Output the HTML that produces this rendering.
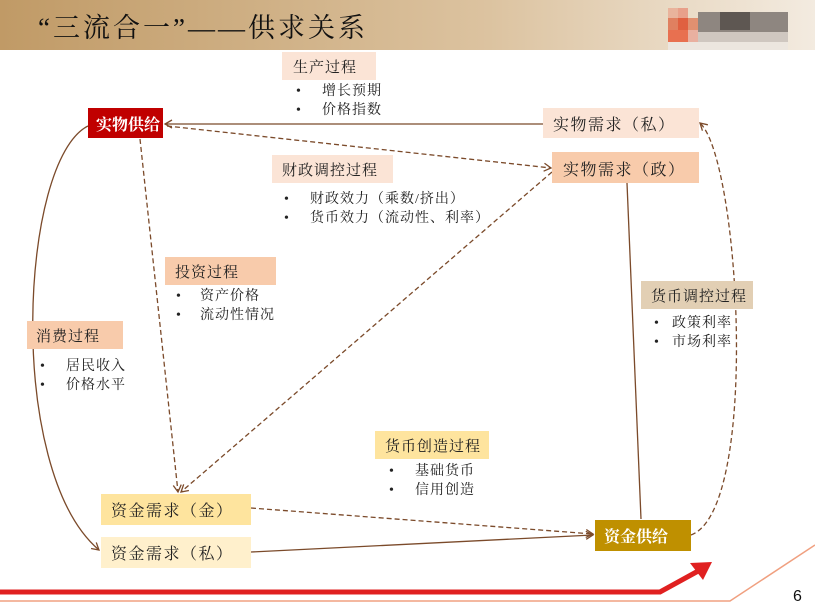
<!DOCTYPE html>
<html><head><meta charset="utf-8"><style>
html,body{margin:0;padding:0;background:#fff;}
svg{display:block;font-family:"Liberation Serif","Noto Serif CJK SC",serif;}
</style></head><body>
<svg width="815" height="611" viewBox="0 0 815 611" xmlns="http://www.w3.org/2000/svg">
<defs>
<linearGradient id="tg" x1="0" x2="1" y1="0" y2="0">
<stop offset="0" stop-color="#c09a66"/><stop offset="0.6" stop-color="#dcc3a0"/><stop offset="1" stop-color="#f3ebe0"/>
</linearGradient>
<marker id="ar" markerWidth="10" markerHeight="10" refX="8" refY="5" orient="auto" markerUnits="userSpaceOnUse">
<path d="M1,1 L8,5 L1,9" fill="none" stroke="#7b4a2a" stroke-width="1.3"/>
</marker>
</defs>
<rect x="0" y="0" width="815" height="50" fill="url(#tg)"/>
<text x="38" y="37" font-size="27" letter-spacing="3" fill="#111">“三流合一”——供求关系</text>
<g>
<rect x="668" y="8" width="10" height="10" fill="#e9b39c"/><rect x="678" y="8" width="10" height="10" fill="#e8a08a"/>
<rect x="668" y="18" width="10" height="12" fill="#e08060"/><rect x="678" y="18" width="10" height="12" fill="#e06040"/><rect x="688" y="18" width="10" height="12" fill="#e09070"/>
<rect x="668" y="30" width="20" height="12" fill="#e87050"/><rect x="688" y="30" width="10" height="12" fill="#e9b0a0"/>
<rect x="698" y="12" width="90" height="20" fill="#8e8680"/><rect x="720" y="12" width="30" height="18" fill="#5e5752"/>
<rect x="698" y="32" width="90" height="12" fill="#cfc7c0"/><rect x="668" y="42" width="120" height="8" fill="#ece6df"/>
</g>
<g fill="none" stroke="#7b4a2a" stroke-width="1.3">
<line x1="543" y1="124" x2="165" y2="124" marker-end="url(#ar)"/>
<line x1="167" y1="126" x2="551" y2="168" stroke-dasharray="5,3" marker-end="url(#ar)"/>
<line x1="140" y1="139" x2="178" y2="492" stroke-dasharray="5,3" marker-end="url(#ar)"/>
<line x1="552" y1="172" x2="181" y2="492" stroke-dasharray="5,3" marker-end="url(#ar)"/>
<path d="M88,126 C20,160 5,470 99,550" marker-end="url(#ar)"/>
<line x1="251" y1="508" x2="593" y2="534" stroke-dasharray="5,3" marker-end="url(#ar)"/>
<line x1="251" y1="552" x2="593" y2="535" marker-end="url(#ar)"/>
<line x1="641" y1="519" x2="626" y2="159" marker-end="url(#ar)"/>
<path d="M691,535 C760,510 740,160 700,123" stroke-dasharray="5,3" marker-end="url(#ar)"/>
</g>
<g font-size="15" fill="#222" letter-spacing="1">
<rect x="282" y="52" width="94" height="28" fill="#fbe4d6"/><text x="293" y="72">生产过程</text>
<rect x="88" y="108" width="75" height="30" fill="#c00000"/><text x="96" y="130" fill="#fff" font-weight="bold" font-size="16" letter-spacing="0">实物供给</text>
<rect x="543" y="108" width="156" height="30" fill="#fbe4d6"/><text x="553" y="130" font-size="16" letter-spacing="1.5">实物需求（私）</text>
<rect x="552" y="152" width="147" height="31" fill="#f8cbab"/><text x="563" y="175" font-size="16" letter-spacing="1.5">实物需求（政）</text>
<rect x="272" y="155" width="121" height="28" fill="#fbe4d6"/><text x="282" y="175">财政调控过程</text>
<rect x="165" y="257" width="111" height="28" fill="#f8cbab"/><text x="175" y="277">投资过程</text>
<rect x="27" y="321" width="96" height="28" fill="#f8cbab"/><text x="36" y="341">消费过程</text>
<rect x="641" y="281" width="112" height="28" fill="#e2cfb4"/><text x="651" y="301">货币调控过程</text>
<rect x="375" y="431" width="114" height="28" fill="#fee49e"/><text x="385" y="451">货币创造过程</text>
<rect x="101" y="494" width="150" height="31" fill="#fee49e"/><text x="111" y="516" font-size="16" letter-spacing="1.5">资金需求（金）</text>
<rect x="101" y="537" width="150" height="31" fill="#fff0cc"/><text x="111" y="559" font-size="16" letter-spacing="1.5">资金需求（私）</text>
<rect x="595" y="520" width="96" height="31" fill="#bf9000"/><text x="604" y="542" fill="#fff" font-weight="bold" font-size="16" letter-spacing="0">资金供给</text>
</g>
<g font-size="14" fill="#222" letter-spacing="1">
<text x="296" y="95">•</text><text x="322" y="95">增长预期</text>
<text x="296" y="114">•</text><text x="322" y="114">价格指数</text>
<text x="284" y="203">•</text><text x="310" y="203">财政效力（乘数/挤出）</text>
<text x="284" y="222">•</text><text x="310" y="222">货币效力（流动性、利率）</text>
<text x="176" y="300">•</text><text x="200" y="300">资产价格</text>
<text x="176" y="319">•</text><text x="200" y="319">流动性情况</text>
<text x="40" y="370">•</text><text x="66" y="370">居民收入</text>
<text x="40" y="389">•</text><text x="66" y="389">价格水平</text>
<text x="654" y="327">•</text><text x="672" y="327">政策利率</text>
<text x="654" y="346">•</text><text x="672" y="346">市场利率</text>
<text x="389" y="475">•</text><text x="415" y="475">基础货币</text>
<text x="389" y="494">•</text><text x="415" y="494">信用创造</text>
</g>
<path d="M0,592 L660,592 L700,570" fill="none" stroke="#e02020" stroke-width="5"/>
<path d="M690,563 L712,562 L703,580 Z" fill="#e02020"/>
<path d="M0,601 L730,601 L815,545" fill="none" stroke="#f0a080" stroke-width="1.5"/>
<text x="793" y="601" font-family="Liberation Sans, sans-serif" font-size="16" fill="#111">6</text>
</svg>
</body></html>
